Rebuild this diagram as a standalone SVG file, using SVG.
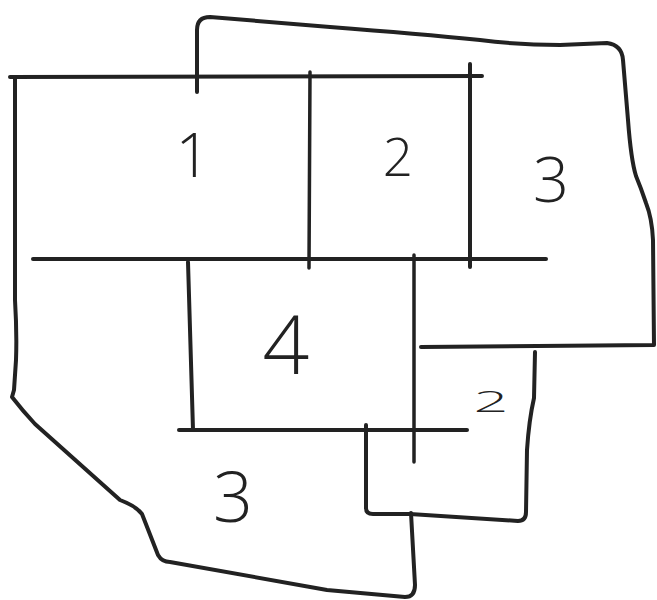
<svg xmlns="http://www.w3.org/2000/svg" width="657" height="600" viewBox="0 0 657 600">
<style>
.ln{fill:none;stroke:#222;stroke-width:4;stroke-linecap:round;stroke-linejoin:round}
.th{stroke-width:3.5}
.lb{font-family:"Open Sans","Liberation Sans",Arial,sans-serif;font-weight:300;fill:#222;text-anchor:middle}
</style>
<rect width="657" height="600" fill="#fff"/>
<g id="outlines">
<path class="ln" d="M10,77 L482,76"/>
<path class="ln" d="M15,79 L15,300 Q17,333 16,360 L14,390 L12,397 Q22,410 35,424 L120,500 Q136,506 142,514 L158,555 Q162,562 170,562 L327,590 L405,597 Q415,597 415,585 L411,513"/>
<path class="ln" d="M197,92 L197,30 Q197,17 210,17 L330,27 Q420,34 480,40 Q520,45 560,45 L607,43 Q622,45 623,60 L628,120 Q631,160 636,176 Q641,188 646,203 Q652,218 653,240 L654,345 L421,347"/>
<path class="ln th" d="M310,72 L309,268"/>
<path class="ln" d="M470,64 L470,267"/>
<path class="ln" d="M33,259 L546,259"/>
<path class="ln" d="M188,262 L193,430"/>
<path class="ln" d="M179,430 L467,430"/>
<path class="ln th" d="M414,255 L414,462"/>
<path class="ln" d="M366,425 L366,508 Q366,514 373,514 L410,514 Q470,518 518,521 Q526,521 526,512 L527,450 Q529,420 534,398 L535,352"/>
</g>
<g id="labels">
<text class="lb" x="193" y="177" font-size="61">1</text>
<text class="lb" x="398" y="176" font-size="53">2</text>
<text class="lb" x="551" y="202" font-size="63">3</text>
<text class="lb" x="286" y="374" font-size="82">4</text>
<text class="lb" x="233" y="522" font-size="70">3</text>
<text class="lb" transform="translate(491,412) scale(1.8,0.85)" font-size="34" font-weight="400">2</text>
</g>
</svg>
